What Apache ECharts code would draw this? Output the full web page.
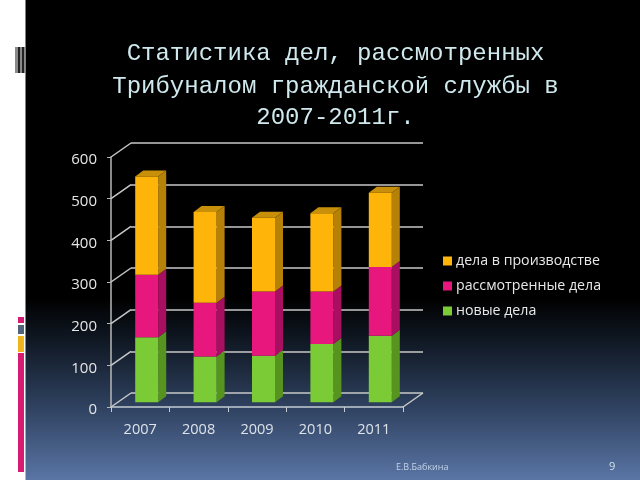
<!DOCTYPE html>
<html><head><meta charset="utf-8">
<style>html,body{margin:0;padding:0;background:#fff}#c{width:640px;height:480px}</style>
<script src="https://cdn.jsdelivr.net/npm/echarts@6/dist/echarts.min.js"></script>
</head><body><div id="c"></div>
<script>
const titleLines = ['Статистика дел, рассмотренных','Трибуналом гражданской службы в','2007-2011г.'];
const years = ['2007','2008','2009','2010','2011'];
const newCases = [156,110,112,140,160];
const reviewed = [150,129,154,126,165];
const inProgress = [236,218,177,188,178];
const yTicks = [0,100,200,300,400,500,600];
const author = 'Е.В.Бабкина';
const pageNo = '9';

const names = ['новые дела','рассмотренные дела','дела в производстве'];
const values = [newCases,reviewed,inProgress];
const faces = [
  {front:'#7acb35',side:'#56941f',top:'#6aa82a'},
  {front:'#e8177e',side:'#a80f60',top:'#b8106a'},
  {front:'#ffb40a',side:'#b58107',top:'#c8900a'}
];
const G = {left:111,top:157,w:292,h:250};
const D = {dx:20,dy:-14};
const B = {dx:6.5,dy:-4.7,depthX:8,depthY:-6,w:23};

function bars(si){
  const prev = years.map((_,i)=>{let s=0;for(let k=0;k<si;k++)s+=values[k][i];return s;});
  return {
    type:'custom',name:names[si],xAxisIndex:0,yAxisIndex:0,z:5+si,
    itemStyle:{color:faces[si].front},
    data:years.map((y,i)=>[i,prev[i],prev[i]+values[si][i]]),
    encode:{x:0,y:2},
    renderItem(p,api){
      const lo=api.coord([api.value(0),api.value(1)]);
      const hi=api.coord([api.value(0),api.value(2)]);
      const x0=lo[0]-B.w/2+B.dx, x1=x0+B.w;
      const yb=lo[1]+B.dy, yt=hi[1]+B.dy;
      const dx=B.depthX, dy=B.depthY;
      const ch=[
        {type:'polygon',shape:{points:[[x1,yb],[x1+dx,yb+dy],[x1+dx,yt+dy],[x1,yt]]},style:{fill:faces[si].side}},
        {type:'rect',shape:{x:x0,y:yt,width:B.w,height:yb-yt},style:{fill:faces[si].front}}
      ];
      if(si===values.length-1) ch.unshift({type:'polygon',shape:{points:[[x0,yt],[x0+dx,yt+dy],[x1+dx,yt+dy],[x1,yt]]},style:{fill:faces[si].top}});
      return {type:'group',children:ch};
    }
  };
}

const titleY=[42,75,106];
const option={
  animation:false,
  backgroundColor:{type:'linear',x:0,y:0,x2:0,y2:1,colorStops:[{offset:0,color:'#000'},{offset:0.62,color:'#000'},{offset:0.72,color:'#121b28'},{offset:0.85,color:'#2f4260'},{offset:1,color:'#5a75a5'}]},
  graphic:[
    {type:'rect',x:0,y:0,shape:{width:25.5,height:480},style:{fill:'#fff'},z:-1},
    {type:'rect',x:18,y:317,shape:{width:6,height:6},style:{fill:'#d81b72'}},
    {type:'rect',x:18,y:325,shape:{width:6,height:9},style:{fill:'#4f6478'}},
    {type:'rect',x:18,y:336,shape:{width:6,height:16},style:{fill:'#f0b41c'}},
    {type:'rect',x:18,y:353,shape:{width:6,height:119},style:{fill:'#d81b72'}},
    {type:'rect',x:15,y:47,shape:{width:10,height:26},style:{fill:'#8a8a8a'}},
    {type:'rect',x:18,y:47,shape:{width:2,height:26},style:{fill:'#222'}},
    {type:'rect',x:22,y:47,shape:{width:2,height:26},style:{fill:'#222'}},
    ...titleLines.map((t,i)=>({type:'text',x:335.5,y:titleY[i],z:10,style:{text:t,fill:'#cfe9ee',font:'24px "Liberation Mono"',textAlign:'center'}})),
    {type:'text',x:396,y:463,style:{text:author,fill:'#c3d3e8',font:'9px "Open Sans"'}},
    {type:'text',x:609,y:461,style:{text:pageNo,fill:'#d3e0ee',font:'11px "Open Sans"'}}
  ],
  legend:{
    left:443,top:254,padding:0,orient:'vertical',itemWidth:9,itemHeight:9,itemGap:11,icon:'rect',
    textStyle:{color:'#e8e8e8',fontFamily:'Open Sans',fontSize:14.2,padding:[0,0,0,-1]},
    data:names.slice().reverse()
  },
  grid:[
    {left:G.left,top:G.top,width:G.w,height:G.h},
    {left:G.left+D.dx,top:G.top+D.dy,width:G.w,height:G.h}
  ],
  xAxis:[
    {type:'category',gridIndex:0,data:years,axisLine:{lineStyle:{color:'#c4ccd4',width:1.5}},axisTick:{show:true,length:5,lineStyle:{color:'#c4ccd4'}},axisLabel:{color:'#dde3ea',fontFamily:'Open Sans',fontSize:14.5,margin:15},splitLine:{show:false}},
    {type:'category',gridIndex:1,data:years,show:false}
  ],
  yAxis:[
    {type:'value',gridIndex:0,min:0,max:600,interval:100,axisLine:{show:true,lineStyle:{color:'#b8b8b8',width:1.5}},axisTick:{show:true,length:4,lineStyle:{color:'#b8b8b8'}},axisLabel:{color:'#e6e6e6',fontFamily:'Open Sans',fontSize:15,margin:14,verticalAlign:'top',lineHeight:6},splitLine:{show:false}},
    {type:'value',gridIndex:1,min:0,max:600,interval:100,axisLine:{show:false},axisTick:{show:false},axisLabel:{show:false},splitLine:{show:true,lineStyle:{color:'#c8c8c8',width:1.5}}}
  ],
  series:[
    {type:'custom',xAxisIndex:0,yAxisIndex:0,silent:true,z:1,data:yTicks.map(v=>[v]),encode:{y:0},
      renderItem(p,api){
        const pt=api.coord([0,api.value(0)]);
        const x=p.coordSys.x;
        return {type:'line',shape:{x1:x,y1:pt[1],x2:x+D.dx,y2:pt[1]+D.dy},style:{stroke:'#c8c8c8',lineWidth:1.5}};
      }},
    {type:'custom',xAxisIndex:0,yAxisIndex:0,silent:true,z:1,data:[[0]],encode:{y:0},
      renderItem(p,api){
        const pt=api.coord([0,0]);
        const x=p.coordSys.x+p.coordSys.width;
        return {type:'line',shape:{x1:x,y1:pt[1],x2:x+D.dx,y2:pt[1]+D.dy},style:{stroke:'#c8c8c8',lineWidth:1.5}};
      }},
    bars(0),bars(1),bars(2)
  ]
};
const chart=echarts.init(document.getElementById('c'),null,{renderer:'canvas'});
chart.setOption(option);
</script></body></html>
